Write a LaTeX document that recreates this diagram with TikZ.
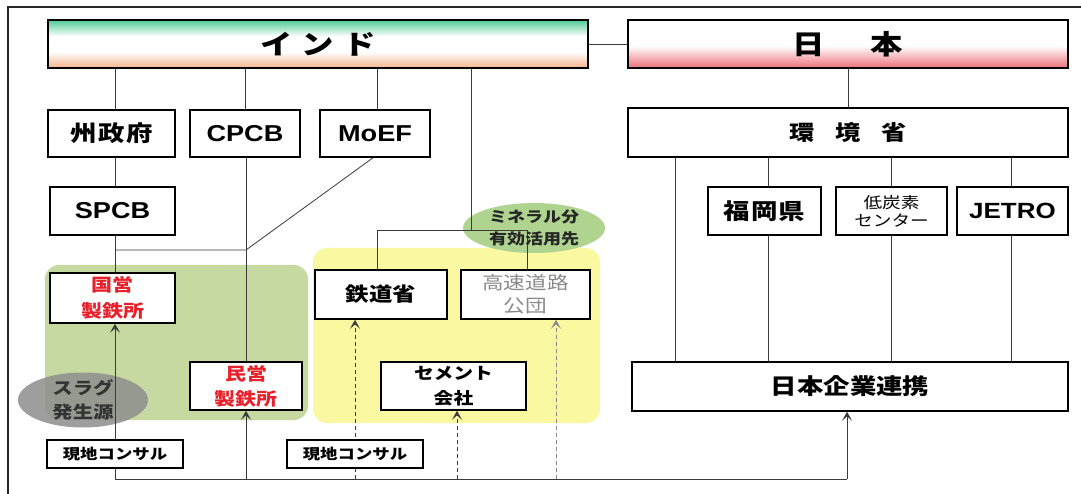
\documentclass[tikz,border=0pt]{standalone}
\usepackage{fontspec}
\setmainfont{Liberation Sans}[FakeStretch=1.18]
\newfontfamily\jp{Noto Sans CJK JP}[FakeStretch=1.2]
\usetikzlibrary{arrows.meta,shapes.geometric}
\definecolor{indgreen}{HTML}{4FCB94}
\definecolor{indpeach}{HTML}{F5B48A}
\definecolor{jppink}{HTML}{EC6F78}
\definecolor{bggreen}{HTML}{C6D9A1}
\definecolor{bgyellow}{HTML}{FBF8A2}
\definecolor{minegreen}{HTML}{AED48F}
\definecolor{slaggray}{HTML}{8E8E8E}
\definecolor{linegray}{HTML}{3A3A3A}
\definecolor{textred}{HTML}{E8202A}
\definecolor{textgray}{HTML}{8A8A8A}
\pgfdeclareverticalshading{indiash}{100bp}{color(0bp)=(indpeach); color(25bp)=(indpeach); color(42bp)=(white); color(58bp)=(white); color(75bp)=(indgreen); color(100bp)=(indgreen)}
\pgfdeclareverticalshading{japansh}{100bp}{color(0bp)=(jppink); color(25bp)=(jppink); color(48bp)=(white); color(100bp)=(white)}
\begin{document}
\begin{tikzpicture}[x=1pt,y=-1pt,
  box/.style={draw=black, line width=1.6pt, fill=white, rectangle, inner sep=0pt, align=center, font=\jp\bfseries\fontsize{17}{25}\selectfont},
  lbox/.style={box, font=\bfseries\fontsize{23}{25}\selectfont},
  conn/.style={draw=linegray, line width=0.8pt},
  arr/.style={conn, -{Stealth[length=9pt,width=10pt,inset=4.5pt]}},
  darr/.style={arr, dashed, dash pattern=on 4pt off 3pt},
  bg/.style={rounded corners=14pt, draw=none}
]
\useasboundingbox (0,0) rectangle (1081,494);
\fill[white] (0,0) rectangle (1081,494);
% outer frame
\draw[line width=1.2pt, black!85] (8,494) -- (8,7) -- (1081,7);

% backgrounds
\fill[bggreen, bg] (45,265) rectangle (308,420);
\fill[bgyellow, bg] (313,248) rectangle (600,423);
\node[ellipse, fill=slaggray, fill opacity=0.85, minimum width=130pt, minimum height=55pt, inner sep=0pt] (slag) at (83,400) {};
\node[ellipse, fill=minegreen, minimum width=142pt, minimum height=50pt, inner sep=0pt] (mine) at (534,228) {};

% coordinates
\coordinate (j1) at (471,230);
\coordinate (jl) at (377,230);
\coordinate (jr) at (527,230);
\coordinate (d1) at (115,250);
\coordinate (d2) at (246,250);
\coordinate (b1) at (115,479);
\coordinate (b2) at (847,479);

% top boxes
\node[box, shading=indiash, minimum width=540pt, minimum height=48pt, font=\jp\bfseries\fontsize{27}{30}\selectfont] (india) at (318,44) {イ\hspace{9pt}ン\hspace{9pt}ド};
\node[box, shading=japansh, minimum width=440pt, minimum height=48pt, font=\jp\bfseries\fontsize{27}{30}\selectfont] (japan) at (848,44) {日\hspace{46pt}本};

% india side boxes
\node[box, minimum width=127pt, minimum height=47pt, font=\jp\bfseries\fontsize{22}{24}\selectfont] (shu) at (111.5,133.5) {州\hspace{1.5pt}政\hspace{1.5pt}府};
\node[lbox, minimum width=110pt, minimum height=47pt] (cpcb) at (245,133.5) {CPCB};
\node[lbox, minimum width=110pt, minimum height=47pt] (moef) at (375,133.5) {MoEF};
\node[lbox, minimum width=125pt, minimum height=48pt] (spcb) at (112.5,211) {SPCB};

% connectors
\draw[conn] (india.east) -- (japan.west);
\draw[conn] (india.south -| 115,0) -- (shu.north -| 115,0);
\draw[conn] (india.south -| 245,0) -- (cpcb.north -| 245,0);
\draw[conn] (india.south -| 377,0) -- (moef.north -| 377,0);
\draw[conn] (india.south -| j1) -- (j1);
\draw[conn] (shu.south -| 115,0) -- (spcb.north -| 115,0);
\draw[conn] (jl) -- (jr);
\draw[conn] (d1) -- (d2) -- (moef.south -| 373,0);
\draw[conn] (japan.south -| 848,0) -- (848,108);

% lower india boxes
\node[box, minimum width=125pt, minimum height=50pt, text=textred, font=\jp\bfseries\fontsize{17.5}{26}\selectfont] (kokuei) at (112.5,298) {国営\\製鉄所};
\node[box, minimum width=112pt, minimum height=48pt, text=textred, font=\jp\bfseries\fontsize{17.5}{25}\selectfont] (minei) at (246,386) {民営\\製鉄所};
\node[box, minimum width=132pt, minimum height=49pt, font=\jp\bfseries\fontsize{19.5}{22}\selectfont] (tetsudo) at (381,294.5) {鉄道省};
\node[box, minimum width=129pt, minimum height=49pt, text=textgray, font=\jp\fontsize{18}{23}\selectfont] (kosoku) at (525.5,294.5) {高速道路\\公団};
\node[box, minimum width=145pt, minimum height=48pt, font=\jp\bfseries\fontsize{16.5}{25}\selectfont] (cement) at (453.5,386) {セメント\\会社};

\draw[conn] (spcb.south -| 115,0) -- (kokuei.north -| 115,0);
\draw[conn] (cpcb.south -| 246,0) -- (minei.north -| 246,0);
\draw[conn] (jl) -- (tetsudo.north -| jl);
\draw[conn] (jr) -- (kosoku.north -| jr);

% japan side
\node[box, minimum width=440pt, minimum height=49pt, font=\jp\bfseries\fontsize{21}{24}\selectfont] (kankyo) at (848,132.5) {環\hspace{21pt}境\hspace{21pt}省};
\node[box, minimum width=113pt, minimum height=48pt, font=\jp\bfseries\fontsize{22}{24}\selectfont] (fukuoka) at (764.5,211) {福\hspace{1pt}岡\hspace{1pt}県};
\node[box, minimum width=111pt, minimum height=48pt, font=\jp\fontsize{15.5}{18}\selectfont] (teitanso) at (891.5,211) {低炭素\\センター};
\node[lbox, minimum width=111pt, minimum height=48pt, font=\bfseries\fontsize{22}{24}\selectfont] (jetro) at (1012.5,211) {JETRO};
\node[box, minimum width=436pt, minimum height=49pt, font=\jp\bfseries\fontsize{22}{24}\selectfont] (kigyo) at (850,386.5) {日本企業連携};

\draw[conn] (kankyo.south -| 675,0) -- (kigyo.north -| 675,0);
\draw[conn] (kankyo.south -| 768,0) -- (fukuoka.north -| 768,0);
\draw[conn] (fukuoka.south -| 768,0) -- (kigyo.north -| 768,0);
\draw[conn] (kankyo.south -| 891,0) -- (teitanso.north -| 891,0);
\draw[conn] (teitanso.south -| 891,0) -- (kigyo.north -| 891,0);
\draw[conn] (kankyo.south -| 1011,0) -- (jetro.north -| 1011,0);
\draw[conn] (jetro.south -| 1011,0) -- (kigyo.north -| 1011,0);

% bottom flows
\draw[conn] (b1) -- (b2);
\draw[arr] (b2) -- (kigyo.south -| b2);
\draw[arr] (b1) -- (kokuei.south -| b1);
\draw[arr] (246,479) -- (minei.south -| 246,0);
\draw[darr] (355,479) -- (tetsudo.south -| 355,0);
\draw[darr] (457,479) -- (cement.south -| 457,0);
\draw[darr, draw=textgray, fill=textgray] (556,479) -- (kosoku.south -| 556,0);

% consultant boxes
\node[box, line width=1.4pt, minimum width=136pt, minimum height=28pt, font=\jp\bfseries\fontsize{14.5}{16}\selectfont] (consul1) at (115,454) {現地コンサル};
\node[box, line width=1.4pt, minimum width=136pt, minimum height=28pt, font=\jp\bfseries\fontsize{14.5}{16}\selectfont] (consul2) at (355,454) {現地コンサル};

% ellipse labels
\node[align=center, font=\jp\bfseries\fontsize{17}{24}\selectfont, text=black!80] (slagt) at (slag) {スラグ\\発生源};
\node[align=center, font=\jp\bfseries\fontsize{15}{22}\selectfont, text=black!85] (minet) at (mine) {ミネラル分\\有効活用先};
\end{tikzpicture}
\end{document}
